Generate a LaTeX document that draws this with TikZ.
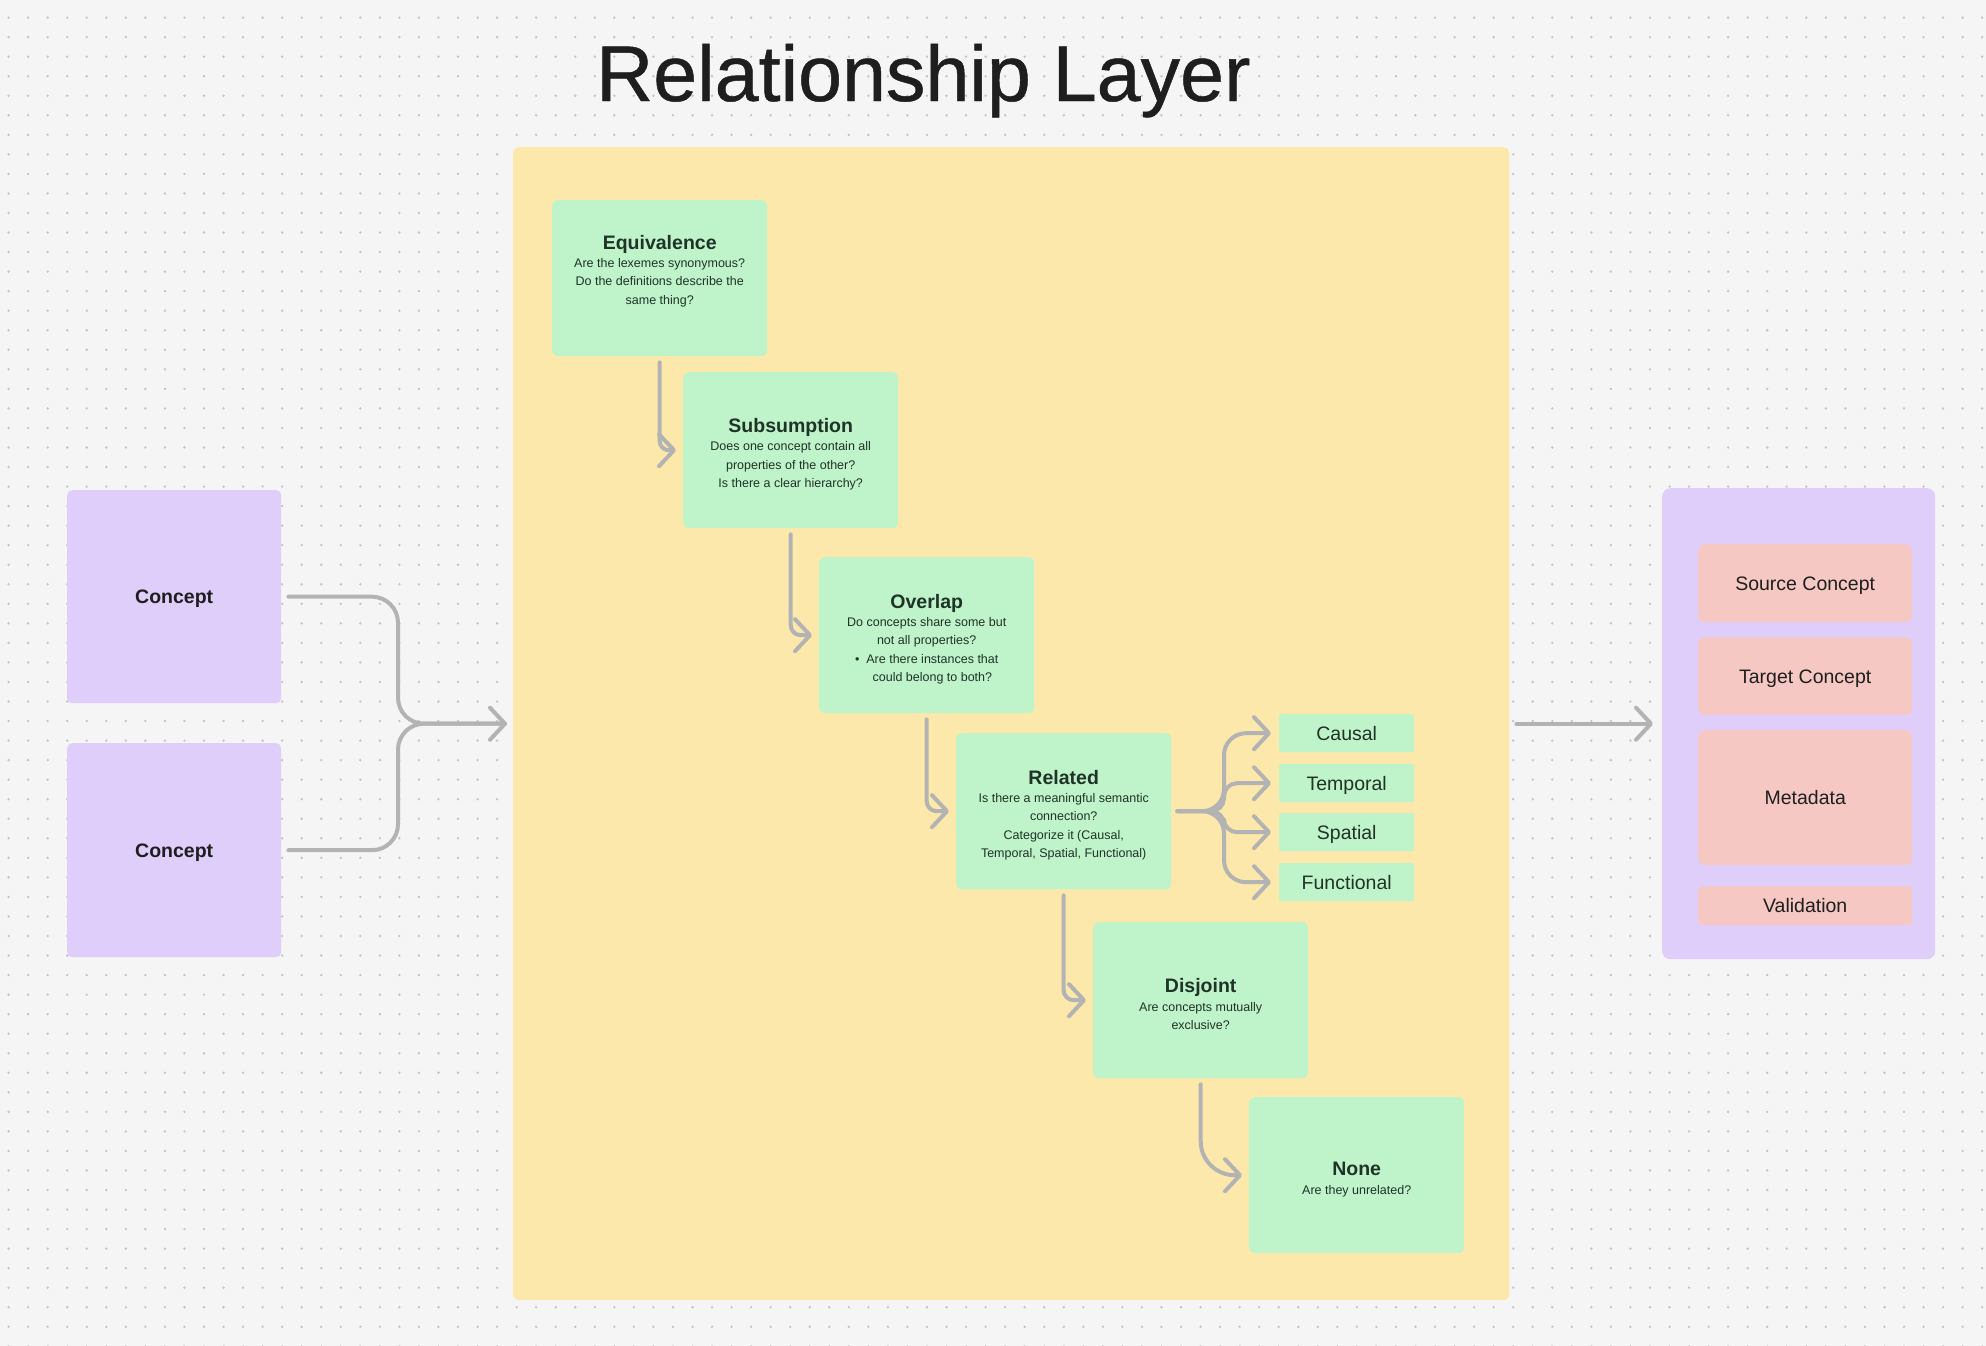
\documentclass[tikz,border=0pt]{standalone}
\usepackage{fontspec}
\setmainfont{Liberation Sans}
\newfontfamily\titlefont[FakeBold=0.6]{Liberation Sans}
\usetikzlibrary{arrows.meta}
\definecolor{bg}{HTML}{F5F5F5}
\definecolor{dotc}{HTML}{C2C2C2}
\definecolor{panelc}{HTML}{FCE8AA}
\definecolor{greenc}{HTML}{BFF3CA}
\definecolor{purplec}{HTML}{E0CEFA}
\definecolor{pinkc}{HTML}{F6C8C3}
\definecolor{linec}{HTML}{B3B3B3}
\definecolor{txt}{HTML}{1E1E1E}
\definecolor{gtxt}{HTML}{1F3327}
\newcommand{\steptitle}[1]{{\fontsize{19.5}{18.3}\selectfont\bfseries #1}}
\newcommand{\topgap}{\mbox{}\\[3.7pt]}
\begin{document}
\begin{tikzpicture}[x=1pt,y=-1pt,
  stepbox/.style={fill=greenc, rounded corners=6pt, minimum width=215pt, minimum height=156pt,
    anchor=north west, align=center, text=gtxt, inner sep=0pt,
    font=\fontsize{12.5}{18.3}\selectfont},
  single/.style={text height=14pt, text depth=0pt},
  catbox/.style={fill=greenc, rounded corners=2pt, minimum width=135pt, minimum height=38pt,
    anchor=north west, inner sep=0pt, text=gtxt, font=\fontsize{19.5}{22}\selectfont, single},
  conceptbox/.style={fill=purplec, rounded corners=5pt, minimum width=214pt, minimum height=213pt,
    anchor=north west, inner sep=0pt, text=txt, font=\fontsize{19.5}{22}\selectfont\bfseries, single},
  pinkbox/.style={fill=pinkc, rounded corners=7pt, minimum width=214pt,
    anchor=north west, inner sep=0pt, text=txt, font=\fontsize{19.5}{22}\selectfont, single},
  conn/.style={draw=linec, line width=4pt, line cap=round, line join=round,
    -{Straight Barb[length=15pt,width=32pt,round]}},
  plain/.style={draw=linec, line width=4pt, line cap=round, line join=round}
]
\useasboundingbox (0,0) rectangle (1986,1346);
\fill[bg] (0,0) rectangle (1986,1346);
\foreach \i in {0,...,101}{
  \foreach \j in {0,...,68}{
    \fill[dotc] (8.6+19.54*\i, 17.6+19.54*\j) circle (1.3pt);
  }
}
% title
\node[anchor=base west, inner sep=0pt, text=txt, font=\titlefont\fontsize{79}{90}\selectfont] (title) at (596,101) {Relationship Layer};

% panel
\node[fill=panelc, rounded corners=6pt, minimum width=996pt, minimum height=1153pt, anchor=north west, inner sep=0pt] (panel) at (513,147) {};

% concepts
\node[conceptbox] (c1) at (67,490) {Concept};
\node[conceptbox, minimum height=214pt] (c2) at (67,743) {Concept};

% steps
\node[stepbox] (equiv) at (552,200) {\steptitle{Equivalence}\\Are the lexemes synonymous?\\Do the definitions describe the\\same thing?\\[-1.3pt]\mbox{}};
\node[stepbox] (subs) at (683,372) {\topgap\steptitle{Subsumption}\\Does one concept contain all\\properties of the other?\\Is there a clear hierarchy?};
\node[stepbox] (over) at (819,557) {\topgap\steptitle{Overlap}\\Do concepts share some but\\not all properties?\\\textbullet\ \ Are there instances that\\\hphantom{\textbullet\ \ }could belong to both?};
\node[stepbox] (rel) at (956,733) {\topgap\steptitle{Related}\\Is there a meaningful semantic\\connection?\\Categorize it (Causal,\\Temporal, Spatial, Functional)};
\node[stepbox] (disj) at (1093,922) {\topgap\steptitle{Disjoint}\\Are concepts mutually\\exclusive?};
\node[stepbox] (none) at (1249,1097) {\topgap\steptitle{None}\\Are they unrelated?};

% categories
\node[catbox] (causal) at (1279,714) {Causal};
\node[catbox] (temporal) at (1279,764) {Temporal};
\node[catbox] (spatial) at (1279,813) {Spatial};
\node[catbox] (functional) at (1279,863) {Functional};

% output container
\node[fill=purplec, rounded corners=8pt, minimum width=273pt, minimum height=471pt, anchor=north west, inner sep=0pt] (out) at (1662,488) {};
\node[pinkbox, minimum height=78pt] (src) at (1698,544) {Source Concept};
\node[pinkbox, minimum height=78pt] (tgt) at (1698,637) {Target Concept};
\node[pinkbox, minimum height=135pt] (meta) at (1698,730) {Metadata};
\node[pinkbox, minimum height=39pt, rounded corners=4pt] (valid) at (1698,886) {Validation};

% input connectors
\draw[plain, rounded corners=26pt] ([xshift=7pt]c1.east) -| ([xshift=-115pt]panel.west) -- ([xshift=-8pt]panel.west);
\draw[conn, rounded corners=26pt] ([xshift=7pt]c2.east) -| ([xshift=-115pt]panel.west) -- ([xshift=-6pt]panel.west);

% output connector
\draw[conn] ([xshift=7pt]panel.east) -- ([xshift=-9pt]out.west);

% step connectors
\draw[conn, rounded corners=9pt] ([yshift=-6pt]equiv.south) |- ([xshift=-7pt]subs.west);
\draw[conn, rounded corners=10pt] ([yshift=-6pt]subs.south) |- ([xshift=-7pt]over.west);
\draw[conn, rounded corners=10pt] ([yshift=-6pt]over.south) |- ([xshift=-7pt]rel.west);
\draw[conn, rounded corners=10pt] ([yshift=-6pt]rel.south) |- ([xshift=-7pt]disj.west);
\draw[conn, rounded corners=34pt] ([yshift=-6pt]disj.south) |- ([xshift=-7pt]none.west);

% branch connectors
\draw[conn, rounded corners=22pt] ([xshift=6pt]rel.east) -| ([xshift=-55pt]causal.west) -- ([xshift=-8pt]causal.west);
\draw[conn, rounded corners=13pt] ([xshift=6pt]rel.east) -| ([xshift=-55pt]temporal.west) -- ([xshift=-8pt]temporal.west);
\draw[conn, rounded corners=13pt] ([xshift=6pt]rel.east) -| ([xshift=-55pt]spatial.west) -- ([xshift=-8pt]spatial.west);
\draw[conn, rounded corners=22pt] ([xshift=6pt]rel.east) -| ([xshift=-55pt]functional.west) -- ([xshift=-8pt]functional.west);
\end{tikzpicture}
\end{document}
